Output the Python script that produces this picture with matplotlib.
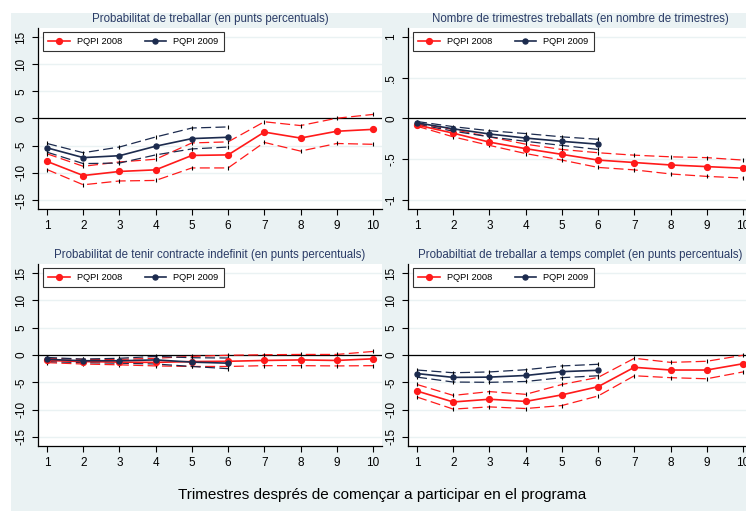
import numpy as np
import matplotlib
matplotlib.use("Agg")
import matplotlib.pyplot as plt
from matplotlib.patches import Rectangle
from matplotlib.lines import Line2D

plt.rcParams["font.family"] = ["Liberation Sans", "DejaVu Sans"]

W, H = 746, 511
BG = "#eaf2f3"
RED = "#ff1a1a"
NAVY = "#1c2b4e"
TITLE_C = "#2a3b66"

quarters = np.arange(1, 11)
q09 = np.arange(1, 7)

titles = [
    "Probabilitat de treballar (en punts percentuals)",
    "Nombre de trimestres treballats (en nombre de trimestres)",
    "Probabilitat de tenir contracte indefinit (en punts percentuals)",
    "Probabiltiat de treballar a temps complet (en punts percentuals)",
]

# panel 1: probabilitat de treballar
p1_08 = [-7.9, -10.5, -9.75, -9.45, -6.8, -6.7, -2.5, -3.6, -2.35, -2.0]
p1_08_hi = [-6.5, -8.8, -8.0, -7.5, -4.5, -4.3, -0.6, -1.3, 0.05, 0.75]
p1_08_lo = [-9.4, -12.2, -11.5, -11.4, -9.1, -9.1, -4.4, -6.0, -4.6, -4.75]
p1_09 = [-5.4, -7.2, -6.85, -5.1, -3.7, -3.45]
p1_09_hi = [-4.6, -6.3, -5.25, -3.4, -1.75, -1.55]
p1_09_lo = [-6.2, -8.3, -8.2, -6.7, -5.6, -5.25]

# panel 2: nombre de trimestres treballats
p2_08 = [-0.08, -0.18, -0.29, -0.37, -0.44, -0.51, -0.54, -0.57, -0.59, -0.61]
p2_08_hi = [-0.06, -0.135, -0.225, -0.315, -0.38, -0.42, -0.45, -0.47, -0.48, -0.51]
p2_08_lo = [-0.095, -0.225, -0.33, -0.43, -0.51, -0.60, -0.63, -0.68, -0.71, -0.73]
p2_09 = [-0.053, -0.127, -0.19, -0.24, -0.28, -0.315]
p2_09_hi = [-0.037, -0.10, -0.15, -0.185, -0.225, -0.255]
p2_09_lo = [-0.07, -0.155, -0.225, -0.28, -0.33, -0.38]

# panel 3: contracte indefinit
p3_08 = [-1.0, -1.2, -1.3, -1.35, -1.2, -1.15, -1.0, -0.9, -1.0, -0.7]
p3_08_hi = [-0.6, -0.8, -0.8, -0.6, -0.25, -0.05, 0.05, 0.1, 0.1, 0.65]
p3_08_lo = [-1.4, -1.65, -1.8, -2.0, -2.1, -2.1, -1.95, -1.95, -2.0, -1.95]
p3_09 = [-0.8, -1.05, -1.05, -0.9, -1.3, -1.5]
p3_09_hi = [-0.45, -0.75, -0.6, -0.25, -0.5, -0.55]
p3_09_lo = [-1.2, -1.4, -1.5, -1.65, -2.1, -2.5]

# panel 4: temps complet
p4_08 = [-6.6, -8.6, -8.1, -8.5, -7.3, -5.8, -2.25, -2.75, -2.75, -1.6]
p4_08_hi = [-5.4, -7.4, -6.7, -7.2, -5.4, -4.1, -0.6, -1.35, -1.15, -0.05]
p4_08_lo = [-7.7, -9.9, -9.5, -9.8, -9.25, -7.5, -3.8, -4.15, -4.35, -3.1]
p4_09 = [-3.4, -4.1, -4.05, -3.75, -3.05, -2.8]
p4_09_hi = [-2.75, -3.25, -3.1, -2.7, -2.0, -1.7]
p4_09_lo = [-4.05, -4.95, -5.0, -4.85, -4.15, -3.8]

pct_ticks = [-15, -10, -5, 0, 5, 10, 15]
pct_labels = ["-15", "-10", "-5", "0", "5", "10", "15"]
n_ticks = [-1, -0.5, 0, 0.5, 1]
n_labels = ["-1", "-.5", "0", ".5", "1"]

panels = [
    (p1_08, p1_08_hi, p1_08_lo, p1_09, p1_09_hi, p1_09_lo, pct_ticks, pct_labels, 16.66),
    (p2_08, p2_08_hi, p2_08_lo, p2_09, p2_09_hi, p2_09_lo, n_ticks, n_labels, 1.11),
    (p3_08, p3_08_hi, p3_08_lo, p3_09, p3_09_hi, p3_09_lo, pct_ticks, pct_labels, 16.66),
    (p4_08, p4_08_hi, p4_08_lo, p4_09, p4_09_hi, p4_09_lo, pct_ticks, pct_labels, 16.66),
]

# pixel boxes: left, top, right, bottom
boxes = [(38, 28, 382, 209), (408, 28, 752, 209),
         (38, 264, 382, 446), (408, 264, 752, 446)]

fig = plt.figure(figsize=(W / 100, H / 100), dpi=100)
fig.patch.set_facecolor("white")
fig.patches.append(Rectangle((11 / W, 0), 1, 1 - 13 / H, transform=fig.transFigure,
                             facecolor=BG, edgecolor="none", zorder=-10))

dash = (0, (8, 3.5))

for (d08, h08, l08, d09, h09, l09, yt, yl, ylim), box, title in zip(panels, boxes, titles):
    l, t, r, b = box
    ax = fig.add_axes([l / W, 1 - b / H, (r - l) / W, (b - t) / H])
    ax.set_facecolor("white")
    ax.set_xlim(0.75, 10.25)
    ax.set_ylim(-ylim, ylim)
    for s in ["top", "right"]:
        ax.spines[s].set_visible(False)
    for s in ["left", "bottom"]:
        ax.spines[s].set_linewidth(0.9)
    ax.set_xticks(quarters)
    ax.set_yticks(yt)
    ax.set_yticklabels(yl, rotation=90, va="center")
    ax.tick_params(length=4.3, width=0.8, pad=3.5, labelsize=8.5, direction="out")
    for v in yt:
        ax.axhline(v, color=BG, lw=1.0, zorder=0)
    ax.axhline(0, color="black", lw=0.9, zorder=1)

    for hi_lo, xs, c in [(h08, quarters, RED), (l08, quarters, RED),
                         (h09, q09, NAVY), (l09, q09, NAVY)]:
        ax.plot(xs, hi_lo, color=c, lw=0.9, linestyle=dash, zorder=2)
        ax.plot(xs, hi_lo, linestyle="none", marker="|", ms=2.5, mew=0.8,
                color="black", zorder=3)
    ax.plot(quarters, d08, color=RED, lw=1.2, marker="o", ms=4.2, zorder=4)
    ax.plot(q09, d09, color=NAVY, lw=1.2, marker="o", ms=3.6, zorder=5)

    handles = [Line2D([], [], color=RED, lw=1.2, marker="o", ms=4.2),
               Line2D([], [], color=NAVY, lw=1.2, marker="o", ms=3.6)]
    leg = ax.legend(handles, ["PQPI 2008", "PQPI 2009"], ncol=2, fontsize=6.7,
                    loc="upper left", bbox_to_anchor=(5 / (r - l), 1 - 4 / (b - t)),
                    borderaxespad=0, fancybox=False, framealpha=1,
                    edgecolor="#333333", handlelength=2.3, handletextpad=0.8,
                    columnspacing=2.4, borderpad=0.55)
    leg.get_frame().set_linewidth(0.8)

    fig.text((l + r) / 2 / W, 1 - (t - 9) / H, title, ha="center", va="center",
             fontsize=8.3, color=TITLE_C)

fig.text(382 / W, 1 - 495 / H, "Trimestres després de començar a participar en el programa",
         ha="center", va="center", fontsize=11)

fig.savefig("out.png", dpi=100)
